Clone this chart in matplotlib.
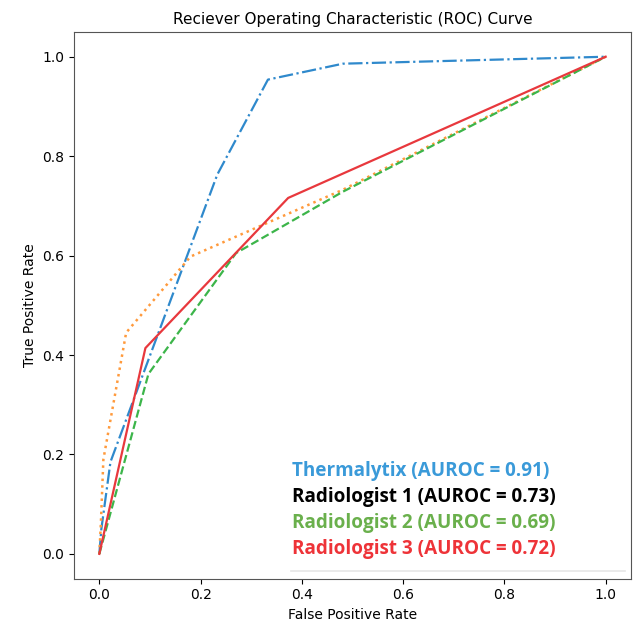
import matplotlib
matplotlib.use("Agg")
import matplotlib.pyplot as plt

# Thermalytix
fpr_t = [0.0, 0.004, 0.022, 0.233, 0.333, 0.481, 1.0]
tpr_t = [0.0, 0.05, 0.185, 0.763, 0.954, 0.986, 1.0]
# Radiologist 1
fpr_r1 = [0.0, 0.003, 0.008, 0.053, 0.18, 0.48, 1.0]
tpr_r1 = [0.0, 0.06, 0.19, 0.445, 0.598, 0.732, 1.0]
# Radiologist 2
fpr_r2 = [0.0, 0.097, 0.27, 0.48, 1.0]
tpr_r2 = [0.0, 0.362, 0.605, 0.728, 1.0]
# Radiologist 3
fpr_r3 = [0.0, 0.091, 0.373, 1.0]
tpr_r3 = [0.0, 0.414, 0.716, 1.0]

labels = ["Thermalytix (AUROC = 0.91)", "Radiologist 1 (AUROC = 0.73)",
          "Radiologist 2 (AUROC = 0.69)", "Radiologist 3 (AUROC = 0.72)"]
label_colors = ["#3a9ad9", "#000000", "#6ab04c", "#ee3338"]

fig = plt.figure(figsize=(6.38, 6.25), dpi=100)
ax = fig.add_axes([0.116, 0.074, 0.873, 0.875])

ax.plot(fpr_t, tpr_t, color="#2f89cc", linestyle="-.", lw=1.6)
ax.plot(fpr_r1, tpr_r1, color="#ff9a3c", linestyle=":", lw=1.8)
ax.plot(fpr_r2, tpr_r2, color="#3cb54a", linestyle="--", lw=1.6)
ax.plot(fpr_r3, tpr_r3, color="#e8383d", linestyle="-", lw=1.6)

ax.set_title("Reciever Operating Characteristic (ROC) Curve", fontsize=11)
ax.set_xlabel("False Positive Rate", fontsize=10)
ax.set_ylabel("True Positive Rate", fontsize=10)
ax.set_xticks([0.0, 0.2, 0.4, 0.6, 0.8, 1.0])
ax.set_yticks([0.0, 0.2, 0.4, 0.6, 0.8, 1.0])
for s in ax.spines.values():
    s.set_color("#555555")

y0 = 0.197
for i, (lab, c) in enumerate(zip(labels, label_colors)):
    ax.text(0.392, y0 - i * 0.0475, lab, transform=ax.transAxes, color=c,
            fontsize=13.6, fontweight="bold", family=["Open Sans", "DejaVu Sans"],
            va="center", ha="left")
ax.axhline(-0.035, xmin=0.39, xmax=0.99, color="#e6e6e6", lw=1.2)

fig.savefig("out.png", dpi=100)
